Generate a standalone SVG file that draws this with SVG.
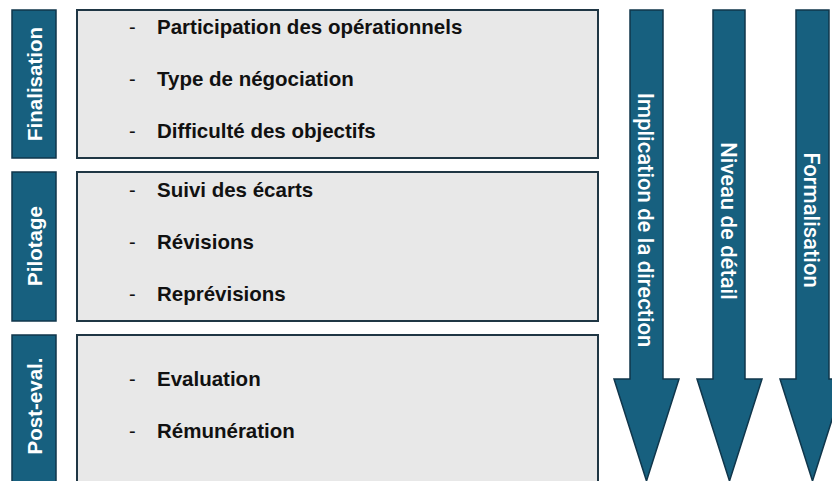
<svg xmlns="http://www.w3.org/2000/svg" width="832" height="481" viewBox="0 0 832 481">
<style>
.lab{fill:#17607f;stroke:#10364b;stroke-width:1.5}
.box{fill:#e8e8e8;stroke:#1f3644;stroke-width:2}
.arr{fill:#17607f;stroke:#10364b;stroke-width:1.5}
.lt{font-family:"Liberation Sans",Arial,sans-serif;font-weight:bold;font-size:20.5px;fill:#ffffff;text-anchor:middle}
.at{font-family:Roboto,"Liberation Sans",sans-serif;font-weight:500;font-size:22px;fill:#ffffff;text-anchor:middle}
.it{font-family:"Liberation Sans",Arial,sans-serif;font-weight:bold;font-size:20.5px;fill:#111111}
.d{font-family:"Liberation Sans",Arial,sans-serif;font-size:20px;fill:#111111}
</style>
<rect width="832" height="481" fill="#ffffff"/>
<g id="finalisation">
<rect class="lab" x="12" y="10" width="44" height="148"/>
<text class="lt" transform="translate(42,84) rotate(-90)">Finalisation</text>
<rect class="box" x="77" y="10" width="521" height="148"/>
<text class="d" x="129" y="34">-</text><text class="it" x="157" y="34">Participation des opérationnels</text>
<text class="d" x="129" y="86">-</text><text class="it" x="157" y="86">Type de négociation</text>
<text class="d" x="129" y="138">-</text><text class="it" x="157" y="138">Difficulté des objectifs</text>
</g>
<g id="pilotage">
<rect class="lab" x="12" y="172" width="44" height="149"/>
<text class="lt" transform="translate(42,246) rotate(-90)">Pilotage</text>
<rect class="box" x="77" y="172" width="521" height="149"/>
<text class="d" x="129" y="197">-</text><text class="it" x="157" y="197">Suivi des écarts</text>
<text class="d" x="129" y="249">-</text><text class="it" x="157" y="249">Révisions</text>
<text class="d" x="129" y="301">-</text><text class="it" x="157" y="301">Reprévisions</text>
</g>
<g id="post-eval">
<rect class="lab" x="12" y="335" width="44" height="160"/>
<text class="lt" transform="translate(42,406) rotate(-90)">Post-eval.</text>
<rect class="box" x="77" y="335" width="521" height="160"/>
<text class="d" x="129" y="386">-</text><text class="it" x="157" y="386">Evaluation</text>
<text class="d" x="129" y="438">-</text><text class="it" x="157" y="438">Rémunération</text>
</g>
<g id="connectors">
<g id="arrow-implication">
<path class="arr" d="M630,10 H663 V379 H679 L646.5,481 L614,379 H630 Z"/>
<text class="at" transform="translate(638,220) rotate(90)">Implication de la direction</text>
</g>
<g id="arrow-niveau">
<path class="arr" d="M713,10 H745 V379 H762 L729.5,481 L697,379 H713 Z"/>
<text class="at" transform="translate(721,221) rotate(90)">Niveau de détail</text>
</g>
<g id="arrow-formalisation">
<path class="arr" d="M796,10 H829 V379 H845 L812.5,481 L780,379 H796 Z"/>
<text class="at" transform="translate(804,220) rotate(90)">Formalisation</text>
</g>
</g>
</svg>
